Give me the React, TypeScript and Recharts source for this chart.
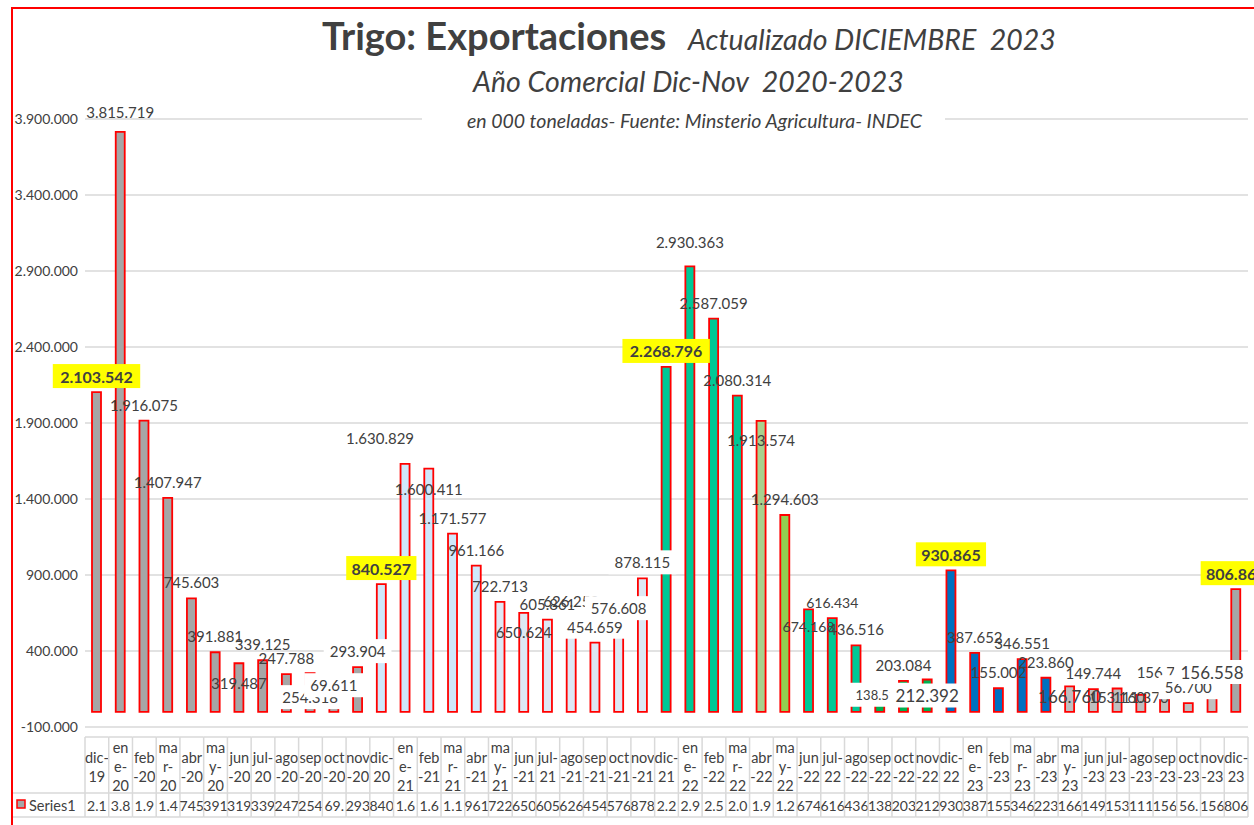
import React from 'react';
import { BarChart, Bar, XAxis, YAxis, CartesianGrid, Cell, LabelList } from 'recharts';

// meses (dic-19 .. dic-23)
const months = [
  'dic-19', 'ene-20', 'feb-20', 'mar-20', 'abr-20', 'may-20', 'jun-20', 'jul-20', 'ago-20', 'sep-20', 'oct-20', 'nov-20',
  'dic-20', 'ene-21', 'feb-21', 'mar-21', 'abr-21', 'may-21', 'jun-21', 'jul-21', 'ago-21', 'sep-21', 'oct-21', 'nov-21',
  'dic-21', 'ene-22', 'feb-22', 'mar-22', 'abr-22', 'may-22', 'jun-22', 'jul-22', 'ago-22', 'sep-22', 'oct-22', 'nov-22',
  'dic-22', 'ene-23', 'feb-23', 'mar-23', 'abr-23', 'may-23', 'jun-23', 'jul-23', 'ago-23', 'sep-23', 'oct-23', 'nov-23',
  'dic-23',
];

const exportsTn = [
  2103542, 3815719, 1916075, 1407947, 745603, 391881, 319487, 339125, 247788, 254318, 69611, 293904,
  840527, 1630829, 1600411, 1171577, 961166, 722713, 650624, 605861, 626252, 454659, 576608, 878115,
  2268796, 2930363, 2587059, 2080314, 1913574, 1294603, 674168, 616434, 436516, 138519, 203084, 212392,
  930865, 387652, 155002, 346551, 223860, 166760, 149744, 153160, 111370, 156790, 56700, 156558,
  806860,
];

const yTicks = [-100000, 400000, 900000, 1400000, 1900000, 2400000, 2900000, 3400000, 3900000];

const seriesName = 'Series1';

const colorFor = (i: number) => {
  if (i <= 11) return '#a6a6a6';
  if (i <= 23) return i >= 12 && i <= 16 ? '#cfe8fb' : '#dde8f4';
  if (i === 28) return '#a9d18e';
  if (i === 29) return '#92d050';
  if (i <= 32) return '#00c896';
  if (i <= 35) return '#00b050';
  if (i <= 40) return '#0070c0';
  if (i <= 47) return '#bfbfbf';
  return '#a6a6a6';
};

// ajustes de etiquetas (como en la hoja original)
const labelTweaks: Record<number, { dx?: number; dy?: number; box?: 'y' | 'w'; size?: number }> = {
  0: { box: 'y' }, 1: { dy: -4 }, 6: { dy: 36 }, 9: { dy: 40, box: 'w' }, 10: { box: 'w' }, 11: { box: 'w' },
  12: { box: 'y' }, 13: { dx: -25, dy: -10 }, 14: { dy: 36 }, 18: { dy: 35 }, 21: { box: 'w' }, 22: { box: 'w' },
  23: { box: 'w' }, 24: { box: 'y' }, 25: { dy: -8 }, 28: { dy: 35 }, 30: { dy: 33, size: 14 }, 31: { size: 14 },
  33: { dy: 20, box: 'w', size: 13 }, 35: { dy: 32, box: 'w', size: 17 }, 36: { box: 'y' }, 41: { dy: 26, size: 17 },
  43: { dy: 24 }, 44: { dy: 18 }, 46: { box: 'w' }, 47: { box: 'w', size: 17 }, 48: { box: 'y' },
};

const fmt = (v: number) => String(v).replace(/\B(?=(\d{3})+(?!\d))/g, '.');

const wrapMonth = (label: string) => {
  const [m, yy] = label.split('-');
  if (['ene', 'mar', 'may'].includes(m)) return [m.slice(0, 2), m.slice(2) + '-', yy];
  if (['dic', 'jul'].includes(m)) return [m + '-', yy];
  return [m, '-' + yy];
};

const data = months.map((m, i) => ({ month: m, value: exportsTn[i], idx: i }));

const FONT = 'Lato, "Open Sans", sans-serif';
const TXT = '#404040';
const GRID = '#d9d9d9';
const PLOT_LEFT = 85;
const PLOT_RIGHT = 1248;
const COL_W = (PLOT_RIGHT - PLOT_LEFT) / months.length;

const BarLabel = (props: any) => {
  const vb = props.viewBox || props;
  const x = Number(vb.x);
  const y = Number(vb.y);
  const w = Number(vb.width);
  const i = props.index ?? data.findIndex((d) => d.value === props.value);
  const t = labelTweaks[i] || {};
  const cx = x + w / 2 + (t.dx || 0);
  const cy = y - 16 + (t.dy || 0);
  const text = fmt(Number(props.value));
  if (t.box === 'y') {
    const bw = text.length * 8.6 + 10;
    return (
      <g>
        <rect x={cx - bw / 2} y={cy - 12} width={bw} height={24} fill="#ffff00" />
        <text x={cx} y={cy} textAnchor="middle" dominantBaseline="central" fontFamily={FONT} fontSize={16} fontWeight={700} fill={TXT}>
          {text}
        </text>
      </g>
    );
  }
  const size = t.size || 15;
  return (
    <g>
      {t.box === 'w' && (
        <rect x={cx - (text.length * size * 0.55 + 10) / 2} y={cy - 12} width={text.length * size * 0.55 + 10} height={24} fill="#ffffff" />
      )}
      <text x={cx} y={cy} textAnchor="middle" dominantBaseline="central" fontFamily={FONT} fontSize={size} fill={TXT}>
        {text}
      </text>
    </g>
  );
};

const TableTick = (props: any) => {
  const { x, y, payload } = props;
  const i = payload.index ?? months.indexOf(payload.value);
  const left = x - COL_W / 2;
  const lines = wrapMonth(payload.value);
  const top = y + 10;
  const mid = y + 66;
  const bottom = y + 90;
  const lineY = lines.length === 3 ? [top + 10, top + 29, top + 48] : [top + 20, top + 39];
  const isLast = i === months.length - 1;
  return (
    <g fontFamily={FONT} fill={TXT}>
      <line x1={left} y1={top} x2={left + COL_W} y2={top} stroke={GRID} strokeWidth={1.5} />
      <line x1={left} y1={mid} x2={left + COL_W} y2={mid} stroke={GRID} strokeWidth={1.5} />
      <line x1={left} y1={bottom} x2={left + COL_W} y2={bottom} stroke={GRID} strokeWidth={1.5} />
      <line x1={left} y1={top} x2={left} y2={bottom} stroke={GRID} strokeWidth={1.5} />
      {isLast && <line x1={left + COL_W} y1={top} x2={left + COL_W} y2={bottom} stroke={GRID} strokeWidth={1.5} />}
      {lines.map((l, k) => (
        <text key={k} x={x} y={lineY[k]} textAnchor="middle" dominantBaseline="central" fontSize={14.5} fill={TXT}>
          {l}
        </text>
      ))}
      <text x={x} y={mid + 12} textAnchor="middle" dominantBaseline="central" fontSize={14} fill={TXT}>
        {fmt(exportsTn[i]).slice(0, 3)}
      </text>
      {i === 0 && (
        <g>
          <line x1={13} y1={mid} x2={left} y2={mid} stroke={GRID} strokeWidth={1.5} />
          <line x1={13} y1={bottom} x2={left} y2={bottom} stroke={GRID} strokeWidth={1.5} />
          <rect x={17} y={mid + 7} width={8} height={8} fill="#a6a6a6" stroke="#ff0000" strokeWidth={1.5} />
          <text x={29} y={mid + 12} dominantBaseline="central" fontSize={14.5} fill={TXT}>
            {seriesName}
          </text>
        </g>
      )}
    </g>
  );
};

export default function App() {
  return (
    <div style={{ position: 'relative', width: 1254, height: 825, overflow: 'hidden', background: '#fff', fontFamily: FONT }}>
      <style>{'body{margin:0}'}</style>
      <BarChart width={1254} height={825} data={data} margin={{ top: 119, right: 1254 - PLOT_RIGHT, left: 7, bottom: 8 }}>
        <CartesianGrid vertical={false} stroke={GRID} strokeWidth={1.5} />
        <YAxis
          type="number"
          domain={[-100000, 3900000]}
          ticks={yTicks}
          width={PLOT_LEFT - 7}
          axisLine={false}
          tickLine={false}
          tickSize={0}
          tickMargin={7}
          tickFormatter={(v: number) => (v < 0 ? '-' + fmt(-v) : fmt(v))}
          tick={{ fontSize: 14, fill: TXT, fontFamily: FONT }}
          interval={0}
        />
        <XAxis
          dataKey="month"
          type="category"
          interval={0}
          height={90}
          axisLine={false}
          tickLine={false}
          tickSize={0}
          tickMargin={0}
          tick={(p: any) => <TableTick {...p} />}
        />
        <Bar dataKey="value" name={seriesName} barSize={9} stroke="#ff0000" strokeWidth={1.8} isAnimationActive={false}>
          {data.map((d) => (
            <Cell key={d.month} fill={colorFor(d.idx)} />
          ))}
          <LabelList dataKey="value" content={(p: any) => <BarLabel {...p} />} />
        </Bar>
      </BarChart>

      <div style={{ position: 'absolute', left: 11, top: 7, width: 1400, height: 1000, border: '2px solid #ff0000', boxSizing: 'border-box', pointerEvents: 'none' }} />

      <div style={{ position: 'absolute', left: 322, top: 16, whiteSpace: 'pre', color: TXT, fontSize: 38, fontWeight: 700, lineHeight: 1 }}>
        Trigo: Exportaciones
      </div>
      <div style={{ position: 'absolute', left: 688, top: 25, whiteSpace: 'pre', color: TXT, fontSize: 28.5, fontStyle: 'italic', lineHeight: 1 }}>
        Actualizado DICIEMBRE  2023
      </div>
      <div style={{ position: 'absolute', left: 473, top: 67, whiteSpace: 'pre', color: TXT, fontSize: 28.5, fontStyle: 'italic', lineHeight: 1 }}>
        Año Comercial Dic-Nov  2020-2023
      </div>
      <div style={{ position: 'absolute', left: 422, top: 111, width: 523, height: 20, background: '#fff' }} />
      <div style={{ position: 'absolute', left: 467, top: 111, whiteSpace: 'pre', color: TXT, fontSize: 19.5, fontStyle: 'italic', lineHeight: 1 }}>
        en 000 toneladas- Fuente: Minsterio Agricultura- INDEC
      </div>
    </div>
  );
}
